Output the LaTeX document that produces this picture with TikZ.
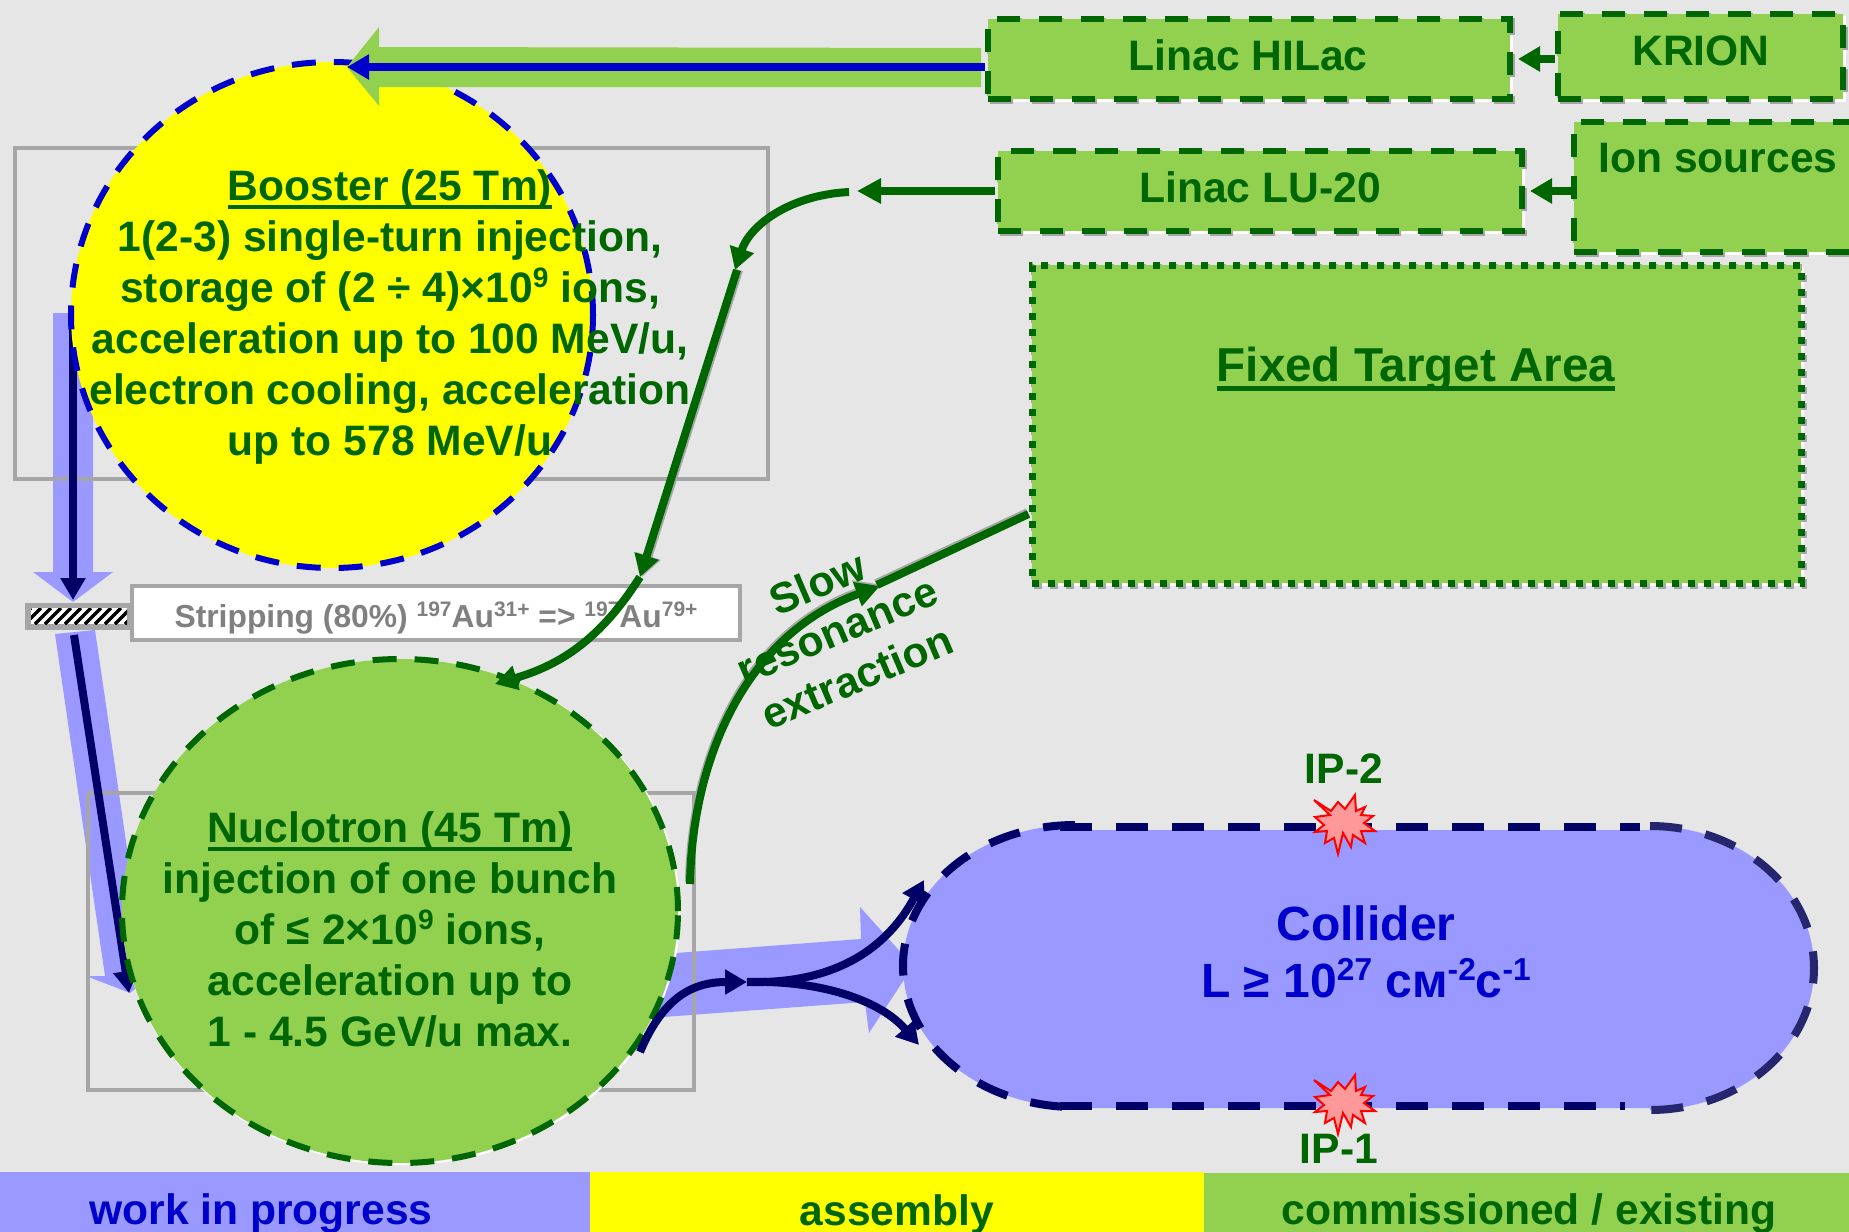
\documentclass[tikz,border=0pt]{standalone}
\usepackage{fontspec}
\usepackage{graphicx}
\setmainfont{Liberation Sans}
\usetikzlibrary{arrows.meta,shapes.geometric}
\definecolor{cGreen}{HTML}{92D050}
\definecolor{cDark}{HTML}{006600}
\definecolor{cLav}{HTML}{9999FF}
\definecolor{cBlue}{HTML}{0000CC}
\definecolor{cNavy}{HTML}{000066}
\definecolor{cBg}{HTML}{E6E6E6}
\definecolor{cGray}{HTML}{A6A6A6}
\definecolor{cText}{HTML}{808080}
\definecolor{cArc}{HTML}{26266F}
\definecolor{cRed}{HTML}{FF0000}
\definecolor{cPink}{HTML}{FF9999}
\definecolor{cYellow}{HTML}{FFFF00}
\newsavebox\ulbox
\newcommand\ul[1]{\sbox\ulbox{#1}\rlap{\usebox\ulbox}\rule[-.2em]{\wd\ulbox}{.09em}}
\newcommand\sups[1]{\raisebox{.36em}{\scalebox{.66}{#1}}}
\tikzset{
  x=.5pt,y=-.5pt,
  tx/.style={font=\fontsize{21.3}{25.5}\selectfont\bfseries,text=cDark,align=center,inner sep=0pt},
  txbig/.style={font=\fontsize{23.8}{30}\selectfont\bfseries,text=cDark,align=center,inner sep=0pt},
  txblue/.style={font=\fontsize{24}{28.5}\selectfont\bfseries,text=cBlue,align=center,inner sep=0pt},
  txgray/.style={font=\fontsize{15.9}{20}\selectfont\bfseries,text=cText,inner sep=0pt},
  shade/.style={preaction={draw=white,fill=white,dash pattern=on 1pt off 0pt,line width=0pt,transform canvas={shift={(1pt,-1pt)}}},
                preaction={draw=cGray,transform canvas={shift={(1.2pt,-1.2pt)}}}},
  box/.style={rectangle,draw=cDark,fill=cGreen,line width=3pt,dash pattern=on 11.5pt off 9.5pt,inner sep=0pt,shade},
  target/.style={rectangle,draw=cDark,fill=cGreen,line width=3.5pt,dash pattern=on 3.6pt off 4.4pt,inner sep=0pt,shade},
  ring/.style={ellipse,fill=#1,line width=3pt,dash pattern=on 12pt off 9pt,inner sep=0pt},
  frame/.style={rectangle,draw=cGray,line width=2pt,inner sep=0pt},
  band/.style={rectangle,inner sep=0pt,anchor=north west},
  wire/.style={line width=4pt,draw=cDark},
  shadeup/.style={preaction={draw=cGray,line width=4pt,transform canvas={shift={(-.5pt,.9pt)}}}},
  shaderight/.style={preaction={draw=cGray,line width=4pt,transform canvas={shift={(1pt,0pt)}}}},
  navyw/.style={line width=4pt,draw=cNavy},
  tipa/.style={-{Triangle[length=12pt,width=12pt]}},
  tipb/.style={-{Triangle[length=11pt,width=12pt]}},
  ringcol/.style={line width=4pt,dash pattern=on 16pt off 12pt},
  burst/.pic={\draw[draw=cRed,fill=cPink,line width=1pt,line join=miter]
    (-29,-23)--(-12,-12)--(-5,-21)--(2,-14)--(12,-28)--(13,-12)--(22,-16)--(18,-8)--(30,-7)--(21,0)--(32,8)--(18,8)--(22,20)--(10,12)--(8,24)--(0,10)--(-5,31)--(-9,15)--(-18,20)--(-16,8)--(-28,9)--(-19,2)--(-28,-6)--(-13,-8)--cycle;}
}
\begin{document}
\begin{tikzpicture}
\useasboundingbox (0,0) rectangle (1849,1232);
\clip (0,0) rectangle (1849,1232);
\fill[cBg] (0,0) rectangle (1849,1232);
% legend
\node[band,fill=cLav,minimum width=295pt,minimum height=30pt] (lgA) at (0,1172) {};
\node[band,fill=cYellow,minimum width=307pt,minimum height=30pt] (lgB) at (590,1172) {};
\node[band,fill=cGreen,minimum width=322.5pt,minimum height=29.5pt] (lgC) at (1204,1173) {};
% wide arrows
\fill[cLav] (53,313)--(93,313)--(93,572)--(113,572)--(73,602)--(33,572)--(53,572)--cycle;
\fill[cLav] (55,634)--(95,630)--(145,971)--(166,965)--(130,993)--(86,976)--(105,976)--cycle;
\fill[cLav] (650,955)--(861,939)--(860,907)--(913,966)--(869,1033)--(865,1002)--(650,1018)--cycle;
% frames
\node[frame,minimum width=376.5pt,minimum height=165.5pt] (frB) at (391,313.5) {};
\node[frame,minimum width=303pt,minimum height=148.5pt] (frN) at (391,941.5) {};
% coordinates
\coordinate (bA) at (73,313); \coordinate (strTop) at (73,600);
\coordinate (strBot) at (74,635); \coordinate (nucIn) at (129,993);
% navy lines under rings
\draw[navyw,tipb] (bA)--(strTop);
\draw[navyw,tipb] (strBot)--(nucIn);
% rings
\node[ring=cYellow,draw=cBlue,minimum width=261pt,minimum height=253pt] (booster) at (332,315) {};
\node[ring=cGreen,draw=cDark,minimum width=278pt,minimum height=252pt,
  preaction={draw=white,solid,line width=1pt,transform canvas={shift={(.6pt,-.6pt)}}}] (nuclotron) at (400,911) {};
% top green and blue arrows
\fill[cGreen] (981,48)--(379,47)--(379,27)--(347,67)--(379,106)--(379,87)--(981,87)--cycle;
\coordinate (hilacOut) at (985,67); \coordinate (boosterIn) at (347,67);
\draw[line width=4pt,draw=cBlue,-{Triangle[length=11pt,width=12pt]}] (hilacOut)--(boosterIn);
% stripper
\node[rectangle,fill=cGray,minimum width=53pt,minimum height=13.5pt,inner sep=0pt] (stripper) at (78,616.5) {};
\begin{scope}
\clip (31,608) rectangle (127,624);
\fill[white] (31,608) rectangle (127,624);
\foreach \k in {15,25,...,135}{\draw[black,line width=1.7pt] (\k,624)--(\k+16,608);}
\end{scope}
\node[rectangle,draw=cGray,fill=white,line width=2.4pt,minimum width=304pt,minimum height=27pt,inner sep=0pt] (stripbox) at (436,613) {};
\node[txgray] (striptx) at (436,618) {Stripping (80\%) \sups{197}Au\sups{31+} => \sups{197}Au\sups{79+}};
% boxes
\node[box,minimum width=261pt,minimum height=40pt] (hilac) at (1249,59) {};
\node[box,minimum width=142.5pt,minimum height=42.5pt] (krion) at (1700.5,56.5) {};
\node[box,minimum width=262pt,minimum height=40pt] (lu) at (1260,191) {};
\node[box,minimum width=143pt,minimum height=65pt] (ion) at (1717,187) {};
\node[target,minimum width=384.5pt,minimum height=159pt] (fixed) at (1416.5,424) {};
\draw[wire,tipb] (krion.west |- hilac.east)--([xshift=2.5pt]hilac.east);
\draw[wire,tipb] (ion.west |- lu.east)--([xshift=2.5pt]lu.east);
% collider
\fill[cLav] (1075,830)--(1650,830)--(1650,826) arc[start angle=-90,end angle=90,x radius=164,y radius=142]--(1650,1108)--(1075,1108)--(1075,1107) arc[start angle=90,end angle=270,x radius=172,y radius=141]--cycle;
\draw[ringcol,cNavy] (1075,825) arc[start angle=270,end angle=90,x radius=172,y radius=141];
\draw[ringcol,cNavy] (1060,827)--(1640,827);
\draw[ringcol,cNavy] (1060,1106)--(1625,1106);
\draw[ringcol,cArc] (1650,826) arc[start angle=-90,end angle=90,x radius=164,y radius=142];
\coordinate (col) at (1075,966);
\pic (ip2) at (1343,823) {burst};
\pic (ip1) at (1343,1103) {burst};
% connector coordinates
\coordinate (luOut) at (lu.west); \coordinate (a1) at (857,191); \coordinate (a2) at (849,192);
\coordinate (a3) at (735,270); \coordinate (a4) at (737,270); \coordinate (a5) at (640,577);
\coordinate (a6) at (495,684);
\coordinate (s1) at (690,884); \coordinate (s2) at (880,586); \coordinate (s3) at (877,585);
\coordinate (n1) at (640,1052); \coordinate (n2) at (747,982); \coordinate (n3) at (924,880); \coordinate (n4) at (919,1045);
% green connectors
\draw[wire,tipa] (luOut)--(a1);
\draw[wire,tipb] (a2) .. controls (790,195) and (750,225) .. (a3);
\draw[wire,shaderight,tipb] (a4)--(a5);
\draw[wire,tipb] (a5) .. controls (600,640) and (560,665) .. (a6);
\draw[wire,shadeup,tipa] (s1) .. controls (692,760) and (745,635) .. (s2);
\draw[wire,shadeup] (s3)--(fixed.west |- 0,514);
% navy connectors
\draw[navyw,tipb] (n1) .. controls (662,1000) and (690,982) .. (n2);
\draw[navyw,tipb] (n2) .. controls (820,984) and (880,960) .. (n3);
\draw[navyw,tipb] (n2) .. controls (820,980) and (880,1000) .. (n4);
% texts
\node[tx] (tB) at (390,317) {\ul{Booster (25 Tm)}\\1(2-3) single-turn injection,\\storage of (2 ÷ 4)×10\sups{9} ions,\\acceleration up to 100 MeV/u,\\electron cooling, acceleration\\up to 578 MeV/u};
\node[tx] (tN) at (390,929.5) {\ul{Nuclotron (45 Tm)}\\injection of one bunch\\of ≤ 2×10\sups{9} ions,\\acceleration up to\\1 - 4.5 GeV/u max.};
\node[tx] (tH) at (1248,55) {Linac HILac};
\node[tx] (tK) at (1701,51) {KRION};
\node[tx] (tL) at (1260,187) {Linac LU-20};
\node[tx] (tI) at (1718,158) {Ion sources};
\node[txbig] (tF) at (1416,369) {\ul{Fixed Target Area}};
\node[tx,rotate=23] (tS) at (837,630) {Slow\\resonance\\extraction};
\node[tx] (tI2) at (1344,769) {IP-2};
\node[tx] (tI1) at (1339,1149) {IP-1};
\node[txblue] (tC) at (1366,952) {Collider\\L ≥ 10\sups{27} см\sups{-2}с\sups{-1}};
\node[tx,text=cBlue] (tW) at (261,1214) {work in progress};
\node[tx] (tA) at (897,1214) {assembly};
\node[tx] (tE) at (1529,1214) {commissioned / existing};
\end{tikzpicture}
\end{document}
